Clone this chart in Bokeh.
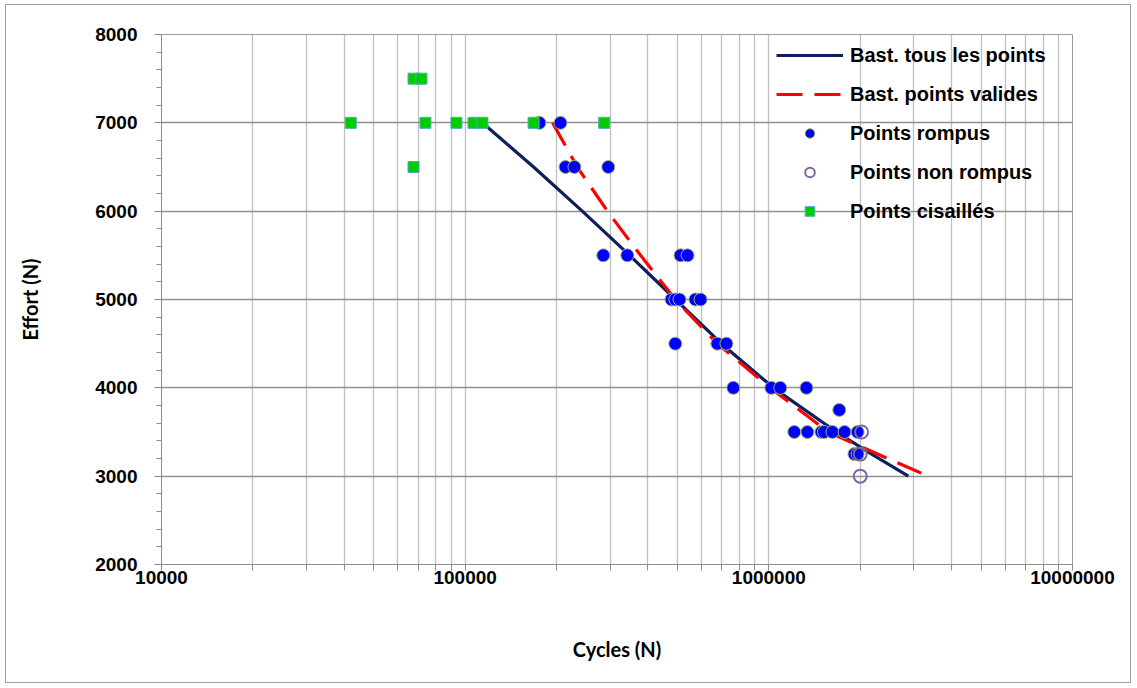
from bokeh.plotting import figure
from bokeh.models import (Legend, LegendItem, FixedTicker, NumeralTickFormatter,
                          Range1d)
from bokeh.embed import file_html
from bokeh.resources import INLINE

# ---- data ----
rompus_n = [175600, 206000, 214000, 229000, 296000,
            285000, 342000, 512000, 540000,
            478000, 492000, 508000, 573000, 596000,
            492000, 677000, 725000,
            764000, 1019000, 1091000, 1330000,
            1706000,
            1213000, 1340000, 1490000, 1520000, 1620000, 1776000, 1960000,
            1914000, 1960000]
rompus_f = [7000, 7000, 6500, 6500, 6500,
            5500, 5500, 5500, 5500,
            5000, 5000, 5000, 5000, 5000,
            4500, 4500, 4500,
            4000, 4000, 4000, 4000,
            3750,
            3500, 3500, 3500, 3500, 3500, 3500, 3500,
            3250, 3250]

non_rompus_n = [2020000, 2000000, 2000000]
non_rompus_f = [3500, 3250, 3000]

cisailles_n = [42000, 67600, 71800, 74000, 67600, 93600, 106500, 114000, 168000, 287000]
cisailles_f = [7000, 7500, 7500, 7000, 6500, 7000, 7000, 7000, 7000, 7000]

tous_f = [7000, 6500, 6000, 5500, 5000, 4500, 4000, 3500, 3250, 3000]
tous_n = [114000, 168000, 243000, 348000, 493000, 698000, 1035000, 1670000, 2180000, 2880000]

valides_f = [7000, 6500, 6000, 5500, 5000, 4500, 4000, 3500, 3250, 3000]
valides_n = [194000, 234000, 294000, 378000, 492000, 677000, 1010000, 1570000, 2280000, 3350000]

x_major = [10000, 100000, 1000000, 10000000]
y_major = [2000, 3000, 4000, 5000, 6000, 7000, 8000]

labels = ["Bast. tous les points", "Bast. points valides", "Points rompus",
          "Points non rompus", "Points cisaillés"]

# ---- figure ----
p = figure(x_axis_type="log", x_range=Range1d(1e4, 1e7), y_range=Range1d(2000, 8000),
           frame_width=911, frame_height=530,
           min_border_left=155, min_border_right=58, min_border_top=29, min_border_bottom=118,
           output_backend="svg", toolbar_location=None)
p.margin = (4, 0, 0, 5)
p.background_fill_color = "white"
p.border_fill_color = "white"
p.outline_line_color = "#9a9a9a"
p.outline_line_width = 1

x_minor = [m * 10 ** d for d in range(4, 7) for m in range(2, 10)]
y_minor = list(range(2000, 8001, 200))

p.xaxis.ticker = FixedTicker(ticks=x_major, minor_ticks=x_minor)
p.yaxis.ticker = FixedTicker(ticks=y_major, minor_ticks=y_minor)
p.xaxis.formatter = NumeralTickFormatter(format="0")

for ax in (p.xaxis[0], p.yaxis[0]):
    ax.axis_line_color = "#8c8c8c"
    ax.major_tick_line_color = "#8c8c8c"
    ax.minor_tick_line_color = "#8c8c8c"
    ax.major_tick_in = 0
    ax.minor_tick_in = 0
    ax.major_label_text_font = "Liberation Sans"
    ax.major_label_text_font_style = "bold"
    ax.major_label_text_font_size = "19px"
    ax.major_label_text_color = "black"
    ax.axis_label_text_font = "Lato"
    ax.axis_label_text_font_style = "bold"
    ax.axis_label_text_font_size = "20px"
    ax.axis_label_text_color = "black"

p.xaxis.major_tick_out = 6
p.xaxis.minor_tick_out = 6
p.yaxis.major_tick_out = 7
p.yaxis.minor_tick_out = 5
p.xaxis.major_label_standoff = 0
p.yaxis.major_label_standoff = 17
p.xaxis.axis_label = "Cycles (N)"
p.yaxis.axis_label = "Effort (N)"
p.xaxis.axis_label_standoff = 50
p.yaxis.axis_label_standoff = 50

p.xgrid.grid_line_color = "#c0c0c0"
p.xgrid.grid_line_width = 1.3
p.xgrid.minor_grid_line_color = "#c0c0c0"
p.xgrid.minor_grid_line_width = 1.3
p.ygrid.grid_line_color = "#8f8f8f"
p.ygrid.grid_line_width = 1.3

# ---- series ----
r_tous = p.line(tous_n, tous_f, line_color="#0d1f5c", line_width=3.2)
r_val = p.line(valides_n, valides_f, line_color="#ff0000", line_width=3.2,
               line_dash="26 12")
r_rom = p.scatter(rompus_n, rompus_f, marker="circle", size=13,
                  fill_color="#0000ff", line_color="#9bbb59", line_width=1)
r_non = p.scatter(non_rompus_n, non_rompus_f, marker="circle", size=13,
                  fill_color=None, line_color="#8064a2", line_width=2)
r_cis = p.scatter(cisailles_n, cisailles_f, marker="square", size=11,
                  fill_color="#00cc00", line_color="#4bacc6", line_width=1)

legend = Legend(items=[LegendItem(label=labels[0], renderers=[r_tous]),
                       LegendItem(label=labels[1], renderers=[r_val]),
                       LegendItem(label=labels[2], renderers=[r_rom]),
                       LegendItem(label=labels[3], renderers=[r_non]),
                       LegendItem(label=labels[4], renderers=[r_cis])],
                location=(615, 341))
legend.padding = 0
legend.spacing = 15
legend.glyph_width = 67
legend.glyph_height = 24
legend.label_height = 24
legend.label_standoff = 7
legend.border_line_color = None
legend.background_fill_alpha = 0
legend.label_text_font = "Liberation Sans"
legend.label_text_font_style = "bold"
legend.label_text_font_size = "20px"
legend.label_text_color = "black"
p.add_layout(legend)

p.styles = {"border": "1px solid #a0a0a0"}

open("out.html", "w").write(file_html(p, INLINE))
